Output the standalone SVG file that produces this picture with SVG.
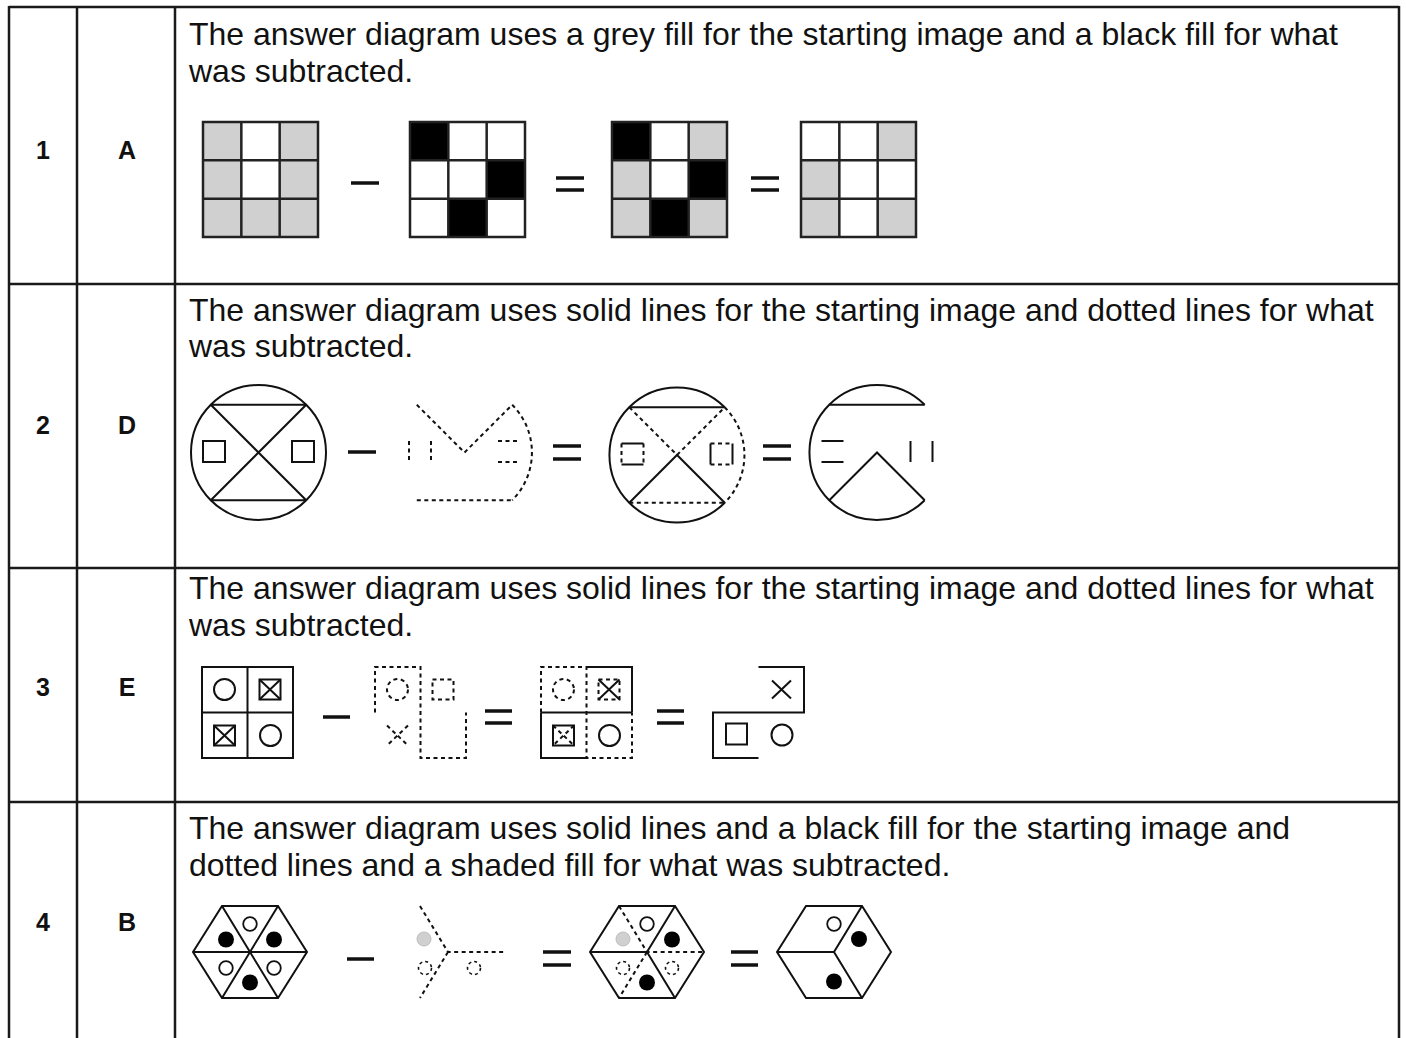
<svg xmlns="http://www.w3.org/2000/svg" width="1406" height="1038" viewBox="0 0 1406 1038">
<style>
.t{font-family:"Liberation Sans",Arial,sans-serif;font-size:32px;fill:#111}
.lb{font-family:"Liberation Sans",Arial,sans-serif;font-size:25px;font-weight:bold;fill:#111;text-anchor:middle}
.rule{stroke:#1a1a1a;stroke-width:2.5;fill:none}
.s{stroke:#111;stroke-width:2;fill:none}
.d{stroke:#111;stroke-width:2;fill:none;stroke-dasharray:4 3.5}
.dc{stroke:#111;stroke-width:1.6;fill:none;stroke-dasharray:3 3}
.op{stroke:#111;stroke-width:3.5}
.gr{stroke:#222;stroke-width:2.5}
.g{fill:#d0d0d0}.w{fill:#fff}.k{fill:#000}
.dot{fill:#000}
.oc{fill:#fff;stroke:#111;stroke-width:1.8}
.gd{fill:#d0d0d0;stroke:#bdbdbd;stroke-width:1}
</style>
<defs>
  <!-- 3x3 grid outline, cell 38.33 -->
  <g id="grid3">
    <path class="gr" fill="none" d="M0,0H115V115H0Z M38.33,0V115 M76.67,0V115 M0,38.33H115 M0,76.67H115"/>
  </g>
</defs>
<rect width="1406" height="1038" fill="#fff"/>

<!-- table rules -->
<g id="table" class="rule">
  <line x1="9" y1="7" x2="1399" y2="7"/>
  <line x1="9" y1="284" x2="1399" y2="284"/>
  <line x1="9" y1="568" x2="1399" y2="568"/>
  <line x1="9" y1="802" x2="1399" y2="802"/>
  <line x1="9" y1="6" x2="9" y2="1038"/>
  <line x1="77" y1="6" x2="77" y2="1038"/>
  <line x1="175" y1="6" x2="175" y2="1038"/>
  <line x1="1399" y1="6" x2="1399" y2="1038"/>
</g>

<!-- row labels -->
<g id="labels">
  <text class="lb" x="43" y="159">1</text><text class="lb" x="127" y="159">A</text>
  <text class="lb" x="43" y="434">2</text><text class="lb" x="127" y="434">D</text>
  <text class="lb" x="43" y="696">3</text><text class="lb" x="127" y="696">E</text>
  <text class="lb" x="43" y="931">4</text><text class="lb" x="127" y="931">B</text>
</g>

<!-- explanations -->
<g id="texts">
  <text class="t" x="189" y="45">The answer diagram uses a grey fill for the starting image and a black fill for what</text>
  <text class="t" x="189" y="82">was subtracted.</text>
  <text class="t" x="189" y="321">The answer diagram uses solid lines for the starting image and dotted lines for what</text>
  <text class="t" x="189" y="357">was subtracted.</text>
  <text class="t" x="189" y="599">The answer diagram uses solid lines for the starting image and dotted lines for what</text>
  <text class="t" x="189" y="636">was subtracted.</text>
  <text class="t" x="189" y="839">The answer diagram uses solid lines and a black fill for the starting image and</text>
  <text class="t" x="189" y="876">dotted lines and a shaded fill for what was subtracted.</text>
</g>

<!-- operators -->
<g id="operators" class="op">
  <line x1="351" y1="183" x2="379" y2="183"/>
  <line x1="556" y1="178" x2="584" y2="178"/><line x1="556" y1="190" x2="584" y2="190"/>
  <line x1="751" y1="178" x2="779" y2="178"/><line x1="751" y1="190" x2="779" y2="190"/>

  <line x1="348" y1="452" x2="376" y2="452"/>
  <line x1="553" y1="446" x2="581" y2="446"/><line x1="553" y1="459" x2="581" y2="459"/>
  <line x1="763" y1="446" x2="791" y2="446"/><line x1="763" y1="459" x2="791" y2="459"/>

  <line x1="323" y1="717" x2="350" y2="717"/>
  <line x1="485" y1="711" x2="512" y2="711"/><line x1="485" y1="723" x2="512" y2="723"/>
  <line x1="657" y1="711" x2="684" y2="711"/><line x1="657" y1="723" x2="684" y2="723"/>

  <line x1="347" y1="959" x2="374" y2="959"/>
  <line x1="543" y1="952" x2="571" y2="952"/><line x1="543" y1="965" x2="571" y2="965"/>
  <line x1="731" y1="952" x2="758" y2="952"/><line x1="731" y1="965" x2="758" y2="965"/>
</g>

<!-- row 1: 3x3 grids -->
<g id="r1-start" transform="translate(203,122)">
  <rect class="g" x="0" y="0" width="38.33" height="38.33"/><rect class="w" x="38.33" y="0" width="38.33" height="38.33"/><rect class="g" x="76.67" y="0" width="38.33" height="38.33"/>
  <rect class="g" x="0" y="38.33" width="38.33" height="38.33"/><rect class="w" x="38.33" y="38.33" width="38.33" height="38.33"/><rect class="g" x="76.67" y="38.33" width="38.33" height="38.33"/>
  <rect class="g" x="0" y="76.67" width="38.33" height="38.33"/><rect class="g" x="38.33" y="76.67" width="38.33" height="38.33"/><rect class="g" x="76.67" y="76.67" width="38.33" height="38.33"/>
  <use href="#grid3"/>
</g>
<g id="r1-sub" transform="translate(410,122)">
  <rect class="k" x="0" y="0" width="38.33" height="38.33"/><rect class="w" x="38.33" y="0" width="38.33" height="38.33"/><rect class="w" x="76.67" y="0" width="38.33" height="38.33"/>
  <rect class="w" x="0" y="38.33" width="38.33" height="38.33"/><rect class="w" x="38.33" y="38.33" width="38.33" height="38.33"/><rect class="k" x="76.67" y="38.33" width="38.33" height="38.33"/>
  <rect class="w" x="0" y="76.67" width="38.33" height="38.33"/><rect class="k" x="38.33" y="76.67" width="38.33" height="38.33"/><rect class="w" x="76.67" y="76.67" width="38.33" height="38.33"/>
  <use href="#grid3"/>
</g>
<g id="r1-combined" transform="translate(612,122)">
  <rect class="k" x="0" y="0" width="38.33" height="38.33"/><rect class="w" x="38.33" y="0" width="38.33" height="38.33"/><rect class="g" x="76.67" y="0" width="38.33" height="38.33"/>
  <rect class="g" x="0" y="38.33" width="38.33" height="38.33"/><rect class="w" x="38.33" y="38.33" width="38.33" height="38.33"/><rect class="k" x="76.67" y="38.33" width="38.33" height="38.33"/>
  <rect class="g" x="0" y="76.67" width="38.33" height="38.33"/><rect class="k" x="38.33" y="76.67" width="38.33" height="38.33"/><rect class="g" x="76.67" y="76.67" width="38.33" height="38.33"/>
  <use href="#grid3"/>
</g>
<g id="r1-result" transform="translate(801,122)">
  <rect class="w" x="0" y="0" width="38.33" height="38.33"/><rect class="w" x="38.33" y="0" width="38.33" height="38.33"/><rect class="g" x="76.67" y="0" width="38.33" height="38.33"/>
  <rect class="g" x="0" y="38.33" width="38.33" height="38.33"/><rect class="w" x="38.33" y="38.33" width="38.33" height="38.33"/><rect class="w" x="76.67" y="38.33" width="38.33" height="38.33"/>
  <rect class="g" x="0" y="76.67" width="38.33" height="38.33"/><rect class="w" x="38.33" y="76.67" width="38.33" height="38.33"/><rect class="g" x="76.67" y="76.67" width="38.33" height="38.33"/>
  <use href="#grid3"/>
</g>

<!-- row 2: circles, r=67.5, chord ends at ±47.7 -->
<g id="r2-start" transform="translate(258.5,452.5)">
  <circle class="s" r="67.5"/>
  <path class="s" d="M-47.7,-47.7H47.7 M-47.7,47.7H47.7 M-47.7,-47.7L47.7,47.7 M47.7,-47.7L-47.7,47.7"/>
  <rect class="s" x="-55.5" y="-11.5" width="22" height="21"/>
  <rect class="s" x="33.5" y="-11.5" width="22" height="21"/>
</g>
<g id="r2-sub" transform="translate(464.5,452.5)">
  <path class="d" d="M-55.5,-11.5V9.5 M-33.5,-11.5V9.5"/>
  <path class="d" d="M-47.7,-47.7L0,0L47.7,-47.7"/>
  <path class="d" d="M33.5,-11.5H55.5 M33.5,9.5H55.5"/>
  <path class="d" d="M47.7,-47.7A67.5,67.5 0 0 1 47.7,47.7"/>
  <path class="d" d="M-47.7,47.7H47.7"/>
</g>
<g id="r2-combined" transform="translate(677,455)">
  <path class="s" d="M47.7,-47.7A67.5,67.5 0 1 0 47.7,47.7"/>
  <path class="d" d="M47.7,-47.7A67.5,67.5 0 0 1 47.7,47.7"/>
  <path class="s" d="M-47.7,-47.7H47.7 M-47.7,47.7L0,0L47.7,47.7"/>
  <path class="d" d="M-47.7,47.7H47.7 M-47.7,-47.7L0,0L47.7,-47.7"/>
  <path class="s" d="M-55.5,-11.5H-33.5 M-55.5,9.5H-33.5 M33.5,-11.5V9.5 M55.5,-11.5V9.5"/>
  <path class="d" d="M-55.5,-11.5V9.5 M-33.5,-11.5V9.5 M33.5,-11.5H55.5 M33.5,9.5H55.5"/>
</g>
<g id="r2-result" transform="translate(877,452.5)">
  <path class="s" d="M47.7,-47.7A67.5,67.5 0 1 0 47.7,47.7"/>
  <path class="s" d="M-47.7,-47.7H47.7 M-47.7,47.7L0,0L47.7,47.7"/>
  <path class="s" d="M-55.5,-11.5H-33.5 M-55.5,9.5H-33.5 M33.5,-11.5V9.5 M55.5,-11.5V9.5"/>
</g>

<!-- row 3: 2x2 grids, side 91 -->
<g id="r3-start" transform="translate(202,667)">
  <path class="s" d="M0,0H91V91H0Z M45.5,0V91 M0,45.5H91"/>
  <circle class="s" cx="22.5" cy="22.5" r="10.5"/>
  <rect class="s" x="57.5" y="12.5" width="21" height="20"/>
  <path class="s" d="M57.5,12.5L78.5,32.5 M78.5,12.5L57.5,32.5"/>
  <rect class="s" x="12" y="58.5" width="21" height="20"/>
  <path class="s" d="M12,58.5L33,78.5 M33,58.5L12,78.5"/>
  <circle class="s" cx="68.5" cy="68.5" r="10.5"/>
</g>
<g id="r3-sub" transform="translate(375,667)">
  <path class="d" d="M0,45.5V0H45.5V91H91V45.5"/>
  <circle class="d" cx="22.5" cy="22.5" r="10.5"/>
  <rect class="d" x="57.5" y="12.5" width="21" height="20"/>
  <path class="d" d="M12,58.5L33,78.5 M33,58.5L12,78.5"/>
</g>
<g id="r3-combined" transform="translate(541,667)">
  <path class="d" d="M0,45.5V0H45.5V91H91V45.5"/>
  <path class="s" d="M45.5,0H91V45.5 M0,45.5H91 M0,45.5V91H45.5"/>
  <circle class="d" cx="22.5" cy="22.5" r="10.5"/>
  <rect class="d" x="57.5" y="12.5" width="21" height="20"/>
  <path class="s" d="M57.5,12.5L78.5,32.5 M78.5,12.5L57.5,32.5"/>
  <rect class="s" x="12" y="58.5" width="21" height="20"/>
  <path class="d" d="M12,58.5L33,78.5 M33,58.5L12,78.5"/>
  <circle class="s" cx="68.5" cy="68.5" r="10.5"/>
</g>
<g id="r3-result" transform="translate(713,667)">
  <path class="s" d="M45.5,0H91V45.5H0V91H45.5"/>
  <path class="s" d="M59,13.5L78,31.5 M78,13.5L59,31.5"/>
  <rect class="s" x="13" y="56.5" width="21" height="21"/>
  <circle class="s" cx="69" cy="68" r="10.5"/>
</g>

<!-- row 4: hexagons -->
<g id="r4-start" transform="translate(250,952)">
  <path class="s" d="M-57,0L-28,-46H28L57,0L28,46H-28Z M-28,-46L28,46 M28,-46L-28,46 M-57,0H57"/>
  <circle class="oc" cx="0" cy="-28" r="6.8"/>
  <circle class="dot" cx="-24" cy="-12.5" r="8"/>
  <circle class="dot" cx="24" cy="-12.5" r="8"/>
  <circle class="oc" cx="-24" cy="16" r="6.8"/>
  <circle class="oc" cx="24" cy="16" r="6.8"/>
  <circle class="dot" cx="0" cy="30.5" r="8"/>
</g>
<g id="r4-sub" transform="translate(448,952)">
  <path class="d" d="M-28,-46L0,0H57 M0,0L-28,46"/>
  <circle class="gd" cx="-24" cy="-13" r="7"/>
  <circle class="dc" cx="-23" cy="16" r="6.5"/>
  <circle class="dc" cx="26" cy="16" r="6.5"/>
</g>
<g id="r4-combined" transform="translate(647,952)">
  <path class="s" d="M-57,0L-28,-46H28L57,0L28,46H-28Z M28,-46L0,0L28,46 M0,0H-57"/>
  <path class="d" d="M-28,-46L0,0H57 M0,0L-28,46"/>
  <circle class="oc" cx="0" cy="-28" r="6.8"/>
  <circle class="gd" cx="-24" cy="-13" r="7"/>
  <circle class="dot" cx="25" cy="-12.5" r="8"/>
  <circle class="dc" cx="-24" cy="16" r="6.5"/>
  <circle class="dc" cx="25" cy="16" r="6.5"/>
  <circle class="dot" cx="0" cy="30.5" r="8"/>
</g>
<g id="r4-result" transform="translate(834,952)">
  <path class="s" d="M-57,0L-28,-46H28L57,0L28,46H-28Z M28,-46L0,0L28,46 M0,0H-57"/>
  <circle class="oc" cx="0" cy="-28" r="6.8"/>
  <circle class="dot" cx="25" cy="-13" r="8"/>
  <circle class="dot" cx="0" cy="29.5" r="8"/>
</g>
</svg>
